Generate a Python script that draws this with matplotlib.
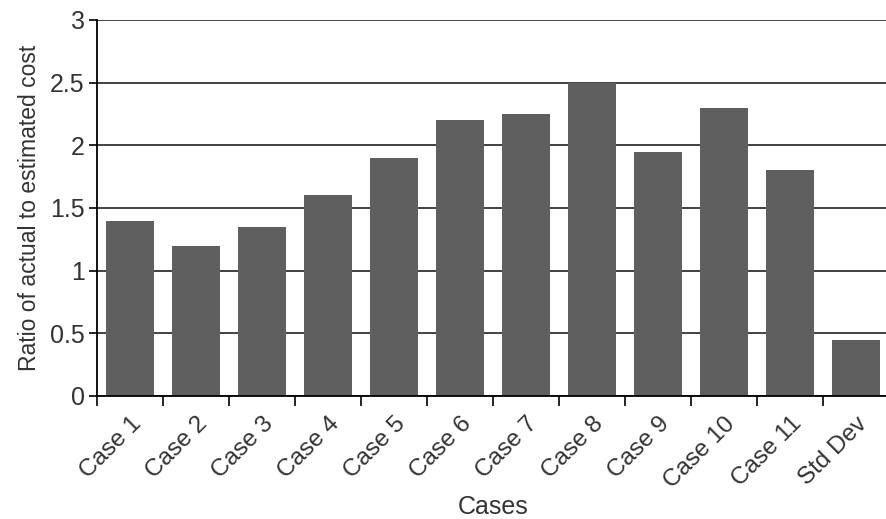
import numpy as np
import matplotlib.pyplot as plt

plt.rcParams['font.family'] = ['Liberation Sans', 'DejaVu Sans']

cases = ['Case 1', 'Case 2', 'Case 3', 'Case 4', 'Case 5', 'Case 6',
         'Case 7', 'Case 8', 'Case 9', 'Case 10', 'Case 11', 'Std Dev']
ratio = [1.4, 1.2, 1.35, 1.6, 1.9, 2.2, 2.25, 2.5, 1.95, 2.3, 1.8, 0.45]

fig = plt.figure(figsize=(8.86, 5.19), dpi=100)
ax = fig.add_axes([0.1095, 0.237, 0.894, 0.7245])

x = np.arange(len(cases))
ax.bar(x, ratio, width=0.73, color='#5f5f5f', zorder=3)

ax.set_ylim(0, 3)
ax.set_yticks([0, 0.5, 1, 1.5, 2, 2.5, 3])
ax.set_yticklabels(['0', '0.5', '1', '1.5', '2', '2.5', '3'], fontsize=18,
                   color='#333333')
ax.yaxis.grid(True, color='#222222', linewidth=1.2, zorder=0)

ax.set_xlim(-0.5, len(cases) - 0.5)
ax.set_xticks(x - 0.5, minor=False)
ax.set_xticklabels([])
ax.set_xticks(x, minor=True)
ax.set_xticklabels(cases, minor=True, rotation=45, ha='right',
                   rotation_mode='anchor', fontsize=17.5, color='#333333')
ax.tick_params(axis='x', which='minor', length=0, pad=12)
ax.tick_params(axis='x', which='major', length=7, width=1.2, direction='out')
ax.tick_params(axis='y', length=6, width=1.2, pad=3)

for s in ['top', 'right']:
    ax.spines[s].set_visible(False)
for s in ['left', 'bottom']:
    ax.spines[s].set_linewidth(1.3)
    ax.spines[s].set_zorder(4)

ax.set_ylabel('Ratio of actual to estimated cost', fontsize=16.5,
              labelpad=6, color='#333333')
ax.set_xlabel('Cases', fontsize=18, labelpad=2, color='#333333')

fig.savefig('out.png', dpi=100)
